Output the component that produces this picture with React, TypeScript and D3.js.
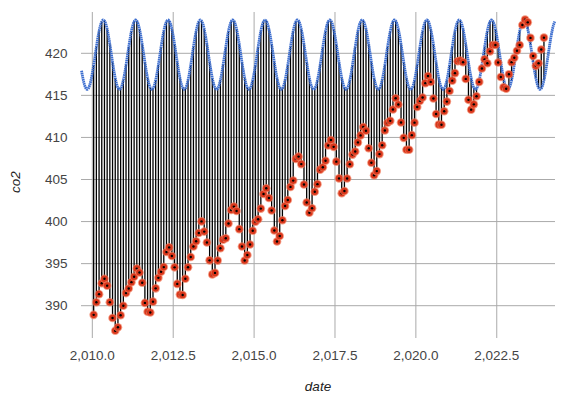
import React from 'react';
import * as d3 from 'd3';

// monthly mean co2 (ppm), Jan..Dec
const YEARS = [2010, 2011, 2012, 2013, 2014, 2015, 2016, 2017, 2018, 2019, 2020, 2021, 2022, 2023];
const CO2_2010 = [388.91, 390.41, 391.37, 392.67, 393.21, 392.38, 390.41, 388.54, 387.03, 387.43, 388.87, 389.99];
const CO2_2011 = [391.5, 392.05, 392.8, 393.44, 394.41, 393.95, 392.72, 390.33, 389.28, 389.19, 390.48, 392.06];
const CO2_2012 = [393.31, 394.04, 394.59, 396.38, 396.93, 395.91, 394.56, 392.59, 391.32, 391.27, 393.2, 394.57];
const CO2_2013 = [395.78, 397.03, 397.66, 398.64, 400.02, 398.81, 397.51, 395.39, 393.72, 393.9, 395.36, 396.83];
const CO2_2014 = [397.85, 398.01, 399.77, 401.38, 401.78, 401.25, 399.1, 397.03, 395.38, 396.03, 397.28, 398.91];
const CO2_2015 = [399.98, 400.28, 401.54, 403.28, 403.96, 402.8, 401.31, 398.93, 397.63, 398.29, 400.16, 401.85];
const CO2_2016 = [402.56, 404.12, 404.87, 407.45, 407.72, 406.83, 404.41, 402.27, 401.05, 401.59, 403.55, 404.45];
const CO2_2017 = [406.17, 406.46, 407.22, 409.04, 409.69, 408.88, 407.12, 405.13, 403.37, 403.63, 405.12, 406.81];
const CO2_2018 = [407.96, 408.32, 409.41, 410.24, 411.24, 410.79, 408.71, 406.99, 405.51, 406.0, 408.02, 409.07];
const CO2_2019 = [410.83, 411.75, 411.97, 413.32, 414.66, 413.92, 411.77, 409.95, 408.54, 408.53, 410.27, 411.76];
const CO2_2020 = [413.61, 414.34, 414.74, 416.45, 417.31, 416.6, 414.62, 412.78, 411.52, 411.51, 413.12, 414.26];
const CO2_2021 = [415.52, 416.75, 417.64, 419.05, 419.13, 418.94, 416.96, 414.47, 413.3, 413.93, 414.9, 416.6];
const CO2_2022 = [418.19, 419.28, 418.81, 420.23, 420.99, 420.99, 418.9, 417.19, 415.95, 415.78, 417.51, 418.95];
const CO2_2023 = [419.47, 420.31, 420.99, 423.36, 424.0, 423.68, 421.83, 419.68, 418.51, 418.82, 420.46, 421.86];
const CO2_BY_YEAR = [
  CO2_2010, CO2_2011, CO2_2012, CO2_2013, CO2_2014, CO2_2015, CO2_2016,
  CO2_2017, CO2_2018, CO2_2019, CO2_2020, CO2_2021, CO2_2022, CO2_2023,
];

// fitted seasonal cycle, 24 steps per year
const FIT_CYCLE = [
  417.63, 418.61, 419.67, 420.74, 421.75, 422.63, 423.32, 423.77,
  423.96, 423.86, 423.49, 422.87, 422.05, 421.07, 420.01, 418.94,
  417.93, 417.05, 416.36, 415.91, 415.72, 415.82, 416.19, 416.81,
];
const FIT_YEARS = [2009, 2010, 2011, 2012, 2013, 2014, 2015, 2016, 2017, 2018, 2019, 2020, 2021, 2022, 2023, 2024];

const X_TICKS = [2010, 2012.5, 2015, 2017.5, 2020, 2022.5];
const Y_TICKS = [390, 395, 400, 405, 410, 415, 420];

const W = 575;
const H = 397;
const left = 81;
const right = 555;
const top = 12;
const bottom = 338;
const X_DOMAIN = [2009.65, 2024.3];
const Y_DOMAIN = [386.16, 424.91];

const font = 'Arial, "Liberation Sans", sans-serif';

export default function App() {
  const x = d3.scaleLinear().domain(X_DOMAIN).range([left, right]);
  const y = d3.scaleLinear().domain(Y_DOMAIN).range([bottom, top]);
  const fmt = d3.format(',.1f');

  const points = YEARS.flatMap((yr, i) =>
    CO2_BY_YEAR[i].map((v, m) => ({ t: yr + (2 * m + 1) / 24, v, fit: FIT_CYCLE[2 * m + 1] }))
  );

  const fitPts = FIT_YEARS.flatMap((yr) => FIT_CYCLE.map((v, k) => ({ t: yr + k / 24, v }))).filter(
    (d) => d.t >= 2009.66 && d.t <= X_DOMAIN[1]
  );

  const line = d3
    .line<{ t: number; v: number }>()
    .x((d) => x(d.t))
    .y((d) => y(d.v))
    .curve(d3.curveCatmullRom);

  return (
    <div style={{ position: 'fixed', left: 0, top: 0 }}>
      <svg width={W} height={H} style={{ display: 'block', background: '#fff' }}>
        {/* grid */}
        {Y_TICKS.map((t) => (
          <line key={'gy' + t} x1={left} x2={right} y1={y(t)} y2={y(t)} stroke="#aaa" strokeWidth={1} />
        ))}
        {X_TICKS.map((t) => (
          <line key={'gx' + t} x1={x(t)} x2={x(t)} y1={top} y2={bottom} stroke="#aaa" strokeWidth={1} />
        ))}

        {/* residual sticks */}
        {points.map((d, i) => (
          <line key={'r' + i} x1={x(d.t)} x2={x(d.t)} y1={y(d.fit)} y2={y(d.v)} stroke="#000" strokeWidth={1.3} />
        ))}

        {/* fitted curve */}
        <path
          d={line(fitPts) || ''}
          fill="none"
          stroke="#3366cc"
          strokeWidth={2.8}
          strokeDasharray="1.6 0.5"
          opacity={0.95}
        />

        {/* data points */}
        {points.map((d, i) => (
          <g key={'p' + i} transform={`translate(${x(d.t)},${y(d.v)})`}>
            <circle r={4.3} fill="#f07a5a" opacity={0.75} />
            <circle r={3.3} fill="#d9361b" />
            <circle r={1.2} fill="#000" />
          </g>
        ))}

        {/* axes labels */}
        {Y_TICKS.map((t) => (
          <text
            key={'ly' + t}
            x={67.5}
            y={y(t) + 4.7}
            textAnchor="end"
            fontFamily={font}
            fontSize={13.5}
            fill="#444"
          >
            {t}
          </text>
        ))}
        {X_TICKS.map((t) => (
          <text key={'lx' + t} x={x(t)} y={360} textAnchor="middle" fontFamily={font} fontSize={13.5} fill="#444">
            {fmt(t)}
          </text>
        ))}
        <text
          transform="translate(20,182) rotate(-90)"
          textAnchor="middle"
          fontFamily={font}
          fontSize={13.5}
          fontStyle="italic"
          fill="#222"
        >
          co2
        </text>
        <text x={318} y={391} textAnchor="middle" fontFamily={font} fontSize={13.5} fontStyle="italic" fill="#222">
          date
        </text>
      </svg>
    </div>
  );
}
